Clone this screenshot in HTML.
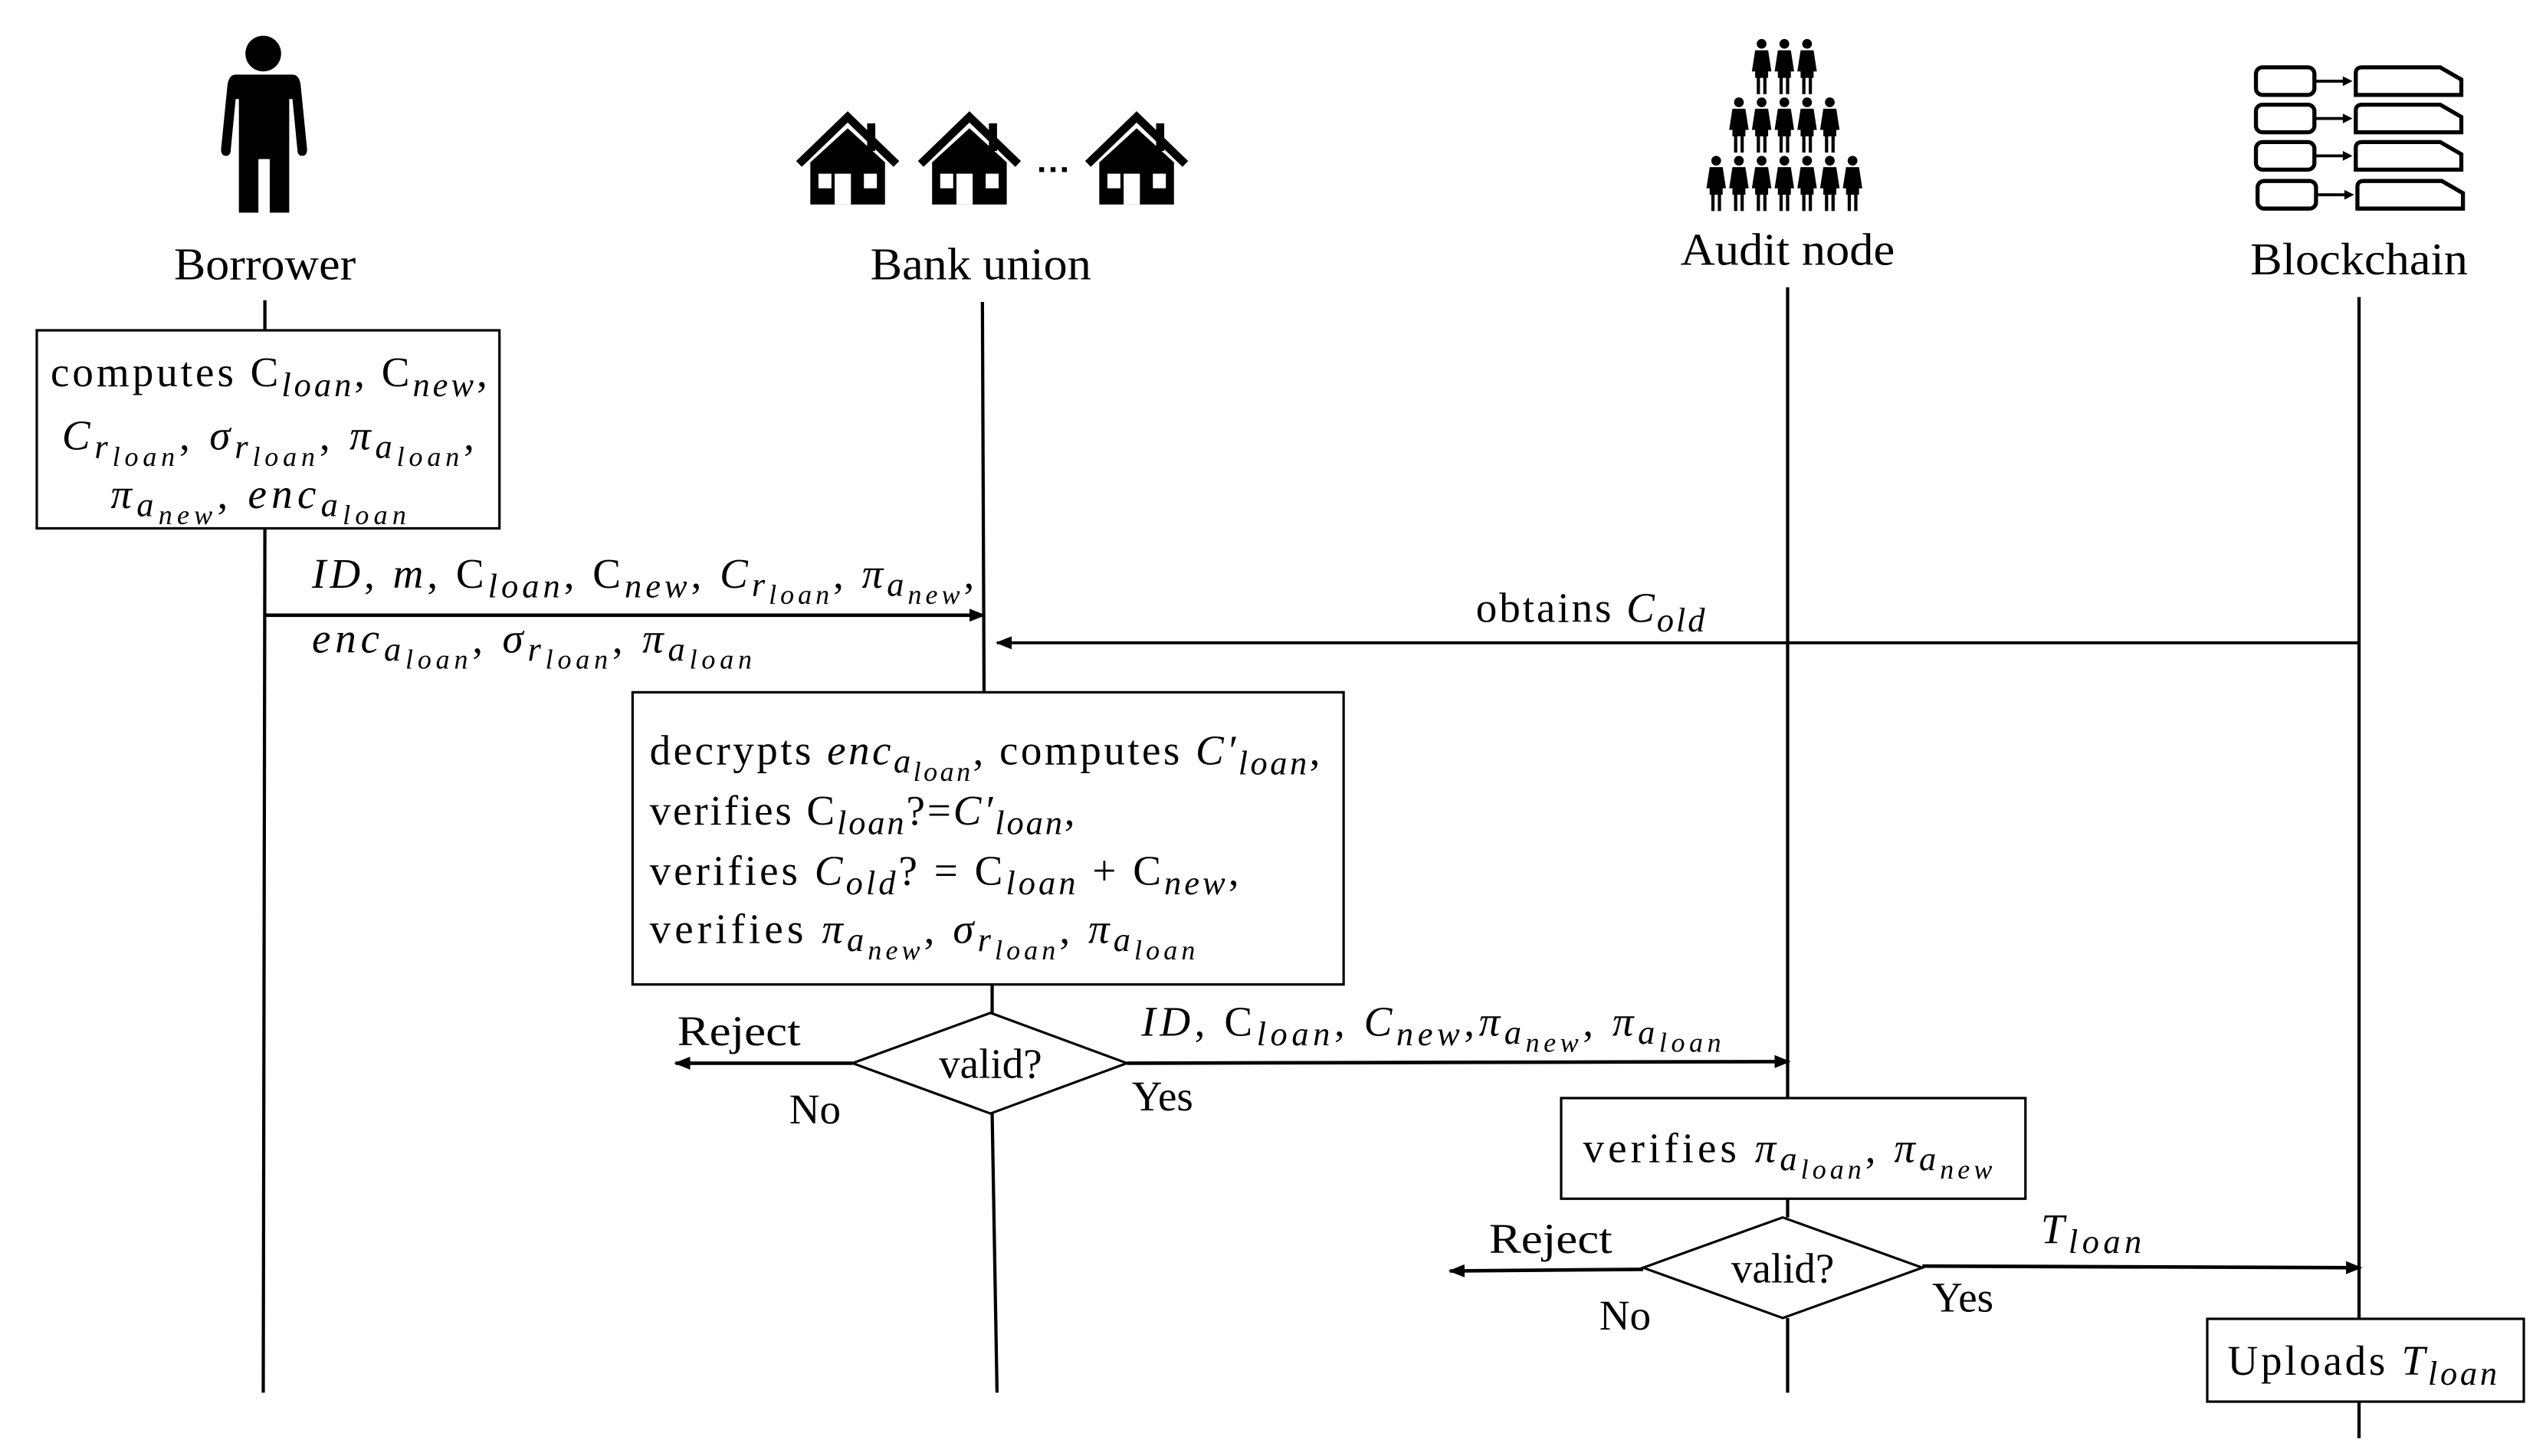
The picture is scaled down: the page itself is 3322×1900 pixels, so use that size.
<!DOCTYPE html>
<html><head><meta charset="utf-8"><style>
html,body{margin:0;padding:0;background:#fff;}
svg{display:block;}
text{font-family:"Liberation Serif",serif;font-size:26px;fill:#000;}
.t{font-size:28px;}
.i{font-style:italic;}
.s{font-size:21px;font-style:italic;}
.ss{font-size:17px;font-style:italic;}
</style></head><body>
<svg width="3322" height="1900" viewBox="0 0 1568 897" xmlns="http://www.w3.org/2000/svg">
<defs>
<marker id="ah" markerWidth="10" markerHeight="8" refX="9" refY="4" orient="auto" markerUnits="userSpaceOnUse">
<path d="M0,0 L10,4 L0,8 Z" fill="#000"/></marker>
<g id="house">
<polyline points="3,33 33,4 63,33" fill="none" stroke="#000" stroke-width="5" stroke-linejoin="miter"/>
<polygon points="10,32 33,11 56,32 56,58 10,58" fill="#000"/>
<rect x="45" y="8" width="5" height="17" fill="#000"/>
<rect x="15" y="39" width="8" height="9" fill="#fff"/>
<rect x="43" y="39" width="8" height="9" fill="#fff"/>
<rect x="25" y="39" width="10" height="19" fill="#fff"/>
</g>
<g id="fig">
<circle cx="7" cy="3" r="3" fill="#000"/>
<path d="M3,7 L11,7 L13,20 L11,20 L11,24 L3,24 L3,20 L1,20 Z" fill="#000"/>
<rect x="4" y="23" width="2" height="11" fill="#000"/>
<rect x="8" y="23" width="2" height="11" fill="#000"/>
</g>
<g id="blk">
<rect x="1.5" y="1.5" width="36" height="17" rx="4" fill="#fff" stroke="#000" stroke-width="2.5"/>
<line x1="38" y1="10" x2="58" y2="10" stroke="#000" stroke-width="1.8"/>
<path d="M55,7 L61,10 L55,13 Z" fill="#000"/>
<path d="M63,18.5 L63,5 Q63,1.5 67,1.5 L115,1.5 L128,9 L128,18.5 Z" fill="#fff" stroke="#000" stroke-width="2.5"/>
</g>
</defs>

<circle cx="162" cy="33" r="11" fill="#000"/>
<path d="M145,46 L180,46 Q184,46 185,52 L189,92 Q189,96 186,96 Q183,96 183,92 L180,61 L178,61 L178,131 L166,131 L166,98 L159,98 L159,131 L147,131 L147,61 L145,61 L142,92 Q142,96 139,96 Q136,96 136,92 L140,52 Q141,46 145,46 Z" fill="#000"/>
<rect x="161" y="98" width="3" height="33" fill="#fff"/>

<use href="#house" x="489" y="68"/>
<use href="#house" x="564" y="68"/>
<rect x="640" y="103" width="3" height="3" fill="#000"/>
<rect x="647" y="103" width="3" height="3" fill="#000"/>
<rect x="654" y="103" width="3" height="3" fill="#000"/>
<use href="#house" x="667" y="68"/>

<use href="#fig" x="1078" y="24"/><use href="#fig" x="1092" y="24"/><use href="#fig" x="1106" y="24"/>
<use href="#fig" x="1064" y="60"/><use href="#fig" x="1078" y="60"/><use href="#fig" x="1092" y="60"/><use href="#fig" x="1106" y="60"/><use href="#fig" x="1120" y="60"/>
<use href="#fig" x="1050" y="96"/><use href="#fig" x="1064" y="96"/><use href="#fig" x="1078" y="96"/><use href="#fig" x="1092" y="96"/><use href="#fig" x="1106" y="96"/><use href="#fig" x="1120" y="96"/><use href="#fig" x="1134" y="96"/>

<use href="#blk" x="1388" y="40"/>
<use href="#blk" x="1388" y="63"/>
<use href="#blk" x="1388" y="86"/>
<use href="#blk" x="1389" y="110"/>

<text class="t" x="163" y="172" text-anchor="middle" textLength="112" lengthAdjust="spacingAndGlyphs">Borrower</text>
<text class="t" x="604" y="172" text-anchor="middle" textLength="136" lengthAdjust="spacingAndGlyphs">Bank union</text>
<text class="t" x="1101" y="163" text-anchor="middle" textLength="132" lengthAdjust="spacingAndGlyphs">Audit node</text>
<text class="t" x="1453" y="169" text-anchor="middle" textLength="134" lengthAdjust="spacingAndGlyphs">Blockchain</text>

<g stroke="#000" stroke-width="2" fill="none">
<line x1="163" y1="185" x2="163" y2="203"/>
<line x1="163" y1="325" x2="162" y2="858"/>
<line x1="605" y1="186" x2="606" y2="426"/>
<line x1="611" y1="606" x2="611" y2="624"/>
<line x1="611" y1="686" x2="614" y2="858"/>
<line x1="1101" y1="177" x2="1101" y2="676"/>
<line x1="1101" y1="738" x2="1101" y2="750"/>
<line x1="1101" y1="812" x2="1101" y2="858"/>
<line x1="1453" y1="183" x2="1453" y2="812"/>
<line x1="1453" y1="863" x2="1453" y2="886"/>
</g>

<g stroke="#000" stroke-width="1.5" fill="#fff">
<rect x="22.5" y="203.5" width="285" height="122"/>
<rect x="389.5" y="426.5" width="438" height="180"/>
<rect x="961.5" y="676.5" width="286" height="62"/>
<rect x="1359.5" y="812.5" width="195" height="51"/>
<polygon points="525,655 610,624 694,655 610,686"/>
<polygon points="1012,781 1098,750 1184,781 1098,812"/>
</g>

<g stroke="#000" stroke-width="2.2" fill="none" marker-end="url(#ah)">
<line x1="163" y1="379" x2="606" y2="379"/>
<line x1="1453" y1="396" x2="614" y2="396" stroke-width="1.8"/>
<line x1="525" y1="655" x2="416" y2="655"/>
<line x1="694" y1="655" x2="1102" y2="654"/>
<line x1="1012" y1="782" x2="893" y2="783"/>
<line x1="1184" y1="780" x2="1454" y2="781"/>
</g>

<text x="31" y="238" textLength="269" lengthAdjust="spacing">computes C<tspan class="s" dy="6">loan</tspan><tspan dy="-6">, C</tspan><tspan class="s" dy="6">new</tspan><tspan dy="-6">,</tspan></text>
<text x="38" y="277" textLength="254" lengthAdjust="spacing"><tspan class="i">C</tspan><tspan class="s" dy="5">r</tspan><tspan class="ss" dy="5">loan</tspan><tspan dy="-10">, </tspan><tspan class="i">σ</tspan><tspan class="s" dy="5">r</tspan><tspan class="ss" dy="5">loan</tspan><tspan dy="-10">, </tspan><tspan class="i">π</tspan><tspan class="s" dy="5">a</tspan><tspan class="ss" dy="5">loan</tspan><tspan dy="-10">,</tspan></text>
<text x="68" y="313" textLength="182" lengthAdjust="spacing"><tspan class="i">π</tspan><tspan class="s" dy="5">a</tspan><tspan class="ss" dy="5">new</tspan><tspan dy="-10">, </tspan><tspan class="i">enc</tspan><tspan class="s" dy="5">a</tspan><tspan class="ss" dy="5">loan</tspan></text>

<text x="192" y="362" textLength="408" lengthAdjust="spacing"><tspan class="i">ID</tspan>, <tspan class="i">m</tspan>, C<tspan class="s" dy="6">loan</tspan><tspan dy="-6">, C</tspan><tspan class="s" dy="6">new</tspan><tspan dy="-6">, </tspan><tspan class="i">C</tspan><tspan class="s" dy="5">r</tspan><tspan class="ss" dy="5">loan</tspan><tspan dy="-10">,  </tspan><tspan class="i">π</tspan><tspan class="s" dy="5">a</tspan><tspan class="ss" dy="5">new</tspan><tspan dy="-10">,</tspan></text>
<text x="192" y="402" textLength="271" lengthAdjust="spacing"><tspan class="i">enc</tspan><tspan class="s" dy="5">a</tspan><tspan class="ss" dy="5">loan</tspan><tspan dy="-10">, </tspan><tspan class="i">σ</tspan><tspan class="s" dy="5">r</tspan><tspan class="ss" dy="5">loan</tspan><tspan dy="-10">, </tspan><tspan class="i">π</tspan><tspan class="s" dy="5">a</tspan><tspan class="ss" dy="5">loan</tspan></text>

<text x="909" y="383" textLength="141" lengthAdjust="spacing">obtains <tspan class="i">C</tspan><tspan class="s" dy="6">old</tspan></text>

<text x="400" y="471" textLength="413" lengthAdjust="spacing">decrypts <tspan class="i">enc</tspan><tspan class="s" dy="5">a</tspan><tspan class="ss" dy="5">loan</tspan><tspan dy="-10">, computes </tspan><tspan class="i">C′</tspan><tspan class="s" dy="6">loan</tspan><tspan dy="-6">,</tspan></text>
<text x="400" y="508" textLength="262" lengthAdjust="spacing">verifies C<tspan class="s" dy="6">loan</tspan><tspan dy="-6">?=</tspan><tspan class="i">C′</tspan><tspan class="s" dy="6">loan</tspan><tspan dy="-6">,</tspan></text>
<text x="400" y="545" textLength="363" lengthAdjust="spacing">verifies <tspan class="i">C</tspan><tspan class="s" dy="6">old</tspan><tspan dy="-6">? = C</tspan><tspan class="s" dy="6">loan</tspan><tspan dy="-6"> + C</tspan><tspan class="s" dy="6">new</tspan><tspan dy="-6">,</tspan></text>
<text x="400" y="581" textLength="336" lengthAdjust="spacing">verifies <tspan class="i">π</tspan><tspan class="s" dy="5">a</tspan><tspan class="ss" dy="5">new</tspan><tspan dy="-10">, </tspan><tspan class="i">σ</tspan><tspan class="s" dy="5">r</tspan><tspan class="ss" dy="5">loan</tspan><tspan dy="-10">, </tspan><tspan class="i">π</tspan><tspan class="s" dy="5">a</tspan><tspan class="ss" dy="5">loan</tspan></text>

<text x="610" y="664" text-anchor="middle">valid?</text>
<text x="417" y="644" textLength="76" lengthAdjust="spacingAndGlyphs">Reject</text>
<text x="486" y="692">No</text>
<text x="697" y="684">Yes</text>
<text x="703" y="638" textLength="357" lengthAdjust="spacing"><tspan class="i">ID</tspan>,  C<tspan class="s" dy="6">loan</tspan><tspan dy="-6">, </tspan><tspan class="i">C</tspan><tspan class="s" dy="6">new</tspan><tspan dy="-6">,</tspan><tspan class="i">π</tspan><tspan class="s" dy="5">a</tspan><tspan class="ss" dy="5">new</tspan><tspan dy="-10">, </tspan><tspan class="i">π</tspan><tspan class="s" dy="5">a</tspan><tspan class="ss" dy="5">loan</tspan></text>

<text x="975" y="716" textLength="252" lengthAdjust="spacing">verifies <tspan class="i">π</tspan><tspan class="s" dy="5">a</tspan><tspan class="ss" dy="5">loan</tspan><tspan dy="-10">, </tspan><tspan class="i">π</tspan><tspan class="s" dy="5">a</tspan><tspan class="ss" dy="5">new</tspan></text>

<text x="1098" y="790" text-anchor="middle">valid?</text>
<text x="917" y="772" textLength="76" lengthAdjust="spacingAndGlyphs">Reject</text>
<text x="985" y="819">No</text>
<text x="1190" y="808">Yes</text>
<text x="1257" y="766" textLength="62" lengthAdjust="spacing"><tspan class="i">T</tspan><tspan class="s" dy="6">loan</tspan></text>

<text x="1372" y="847" textLength="166" lengthAdjust="spacing">Uploads <tspan class="i">T</tspan><tspan class="s" dy="6">loan</tspan></text>
</svg>
</body></html>
